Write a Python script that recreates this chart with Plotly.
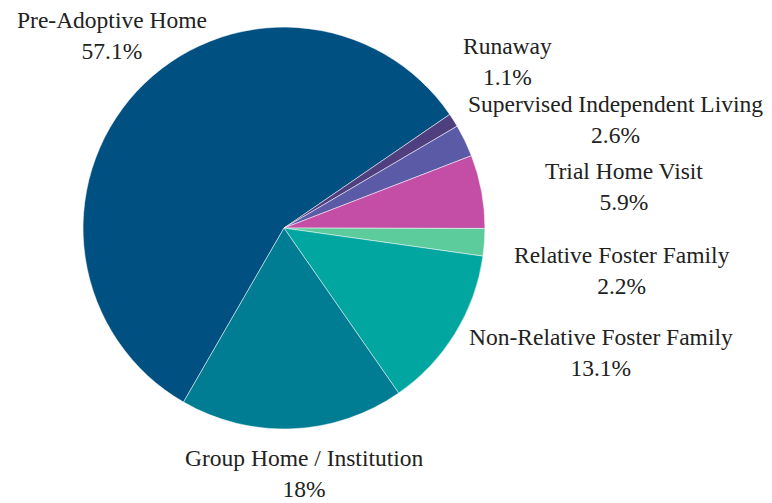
import plotly.graph_objects as go

labels = ["Pre-Adoptive Home", "Runaway", "Supervised Independent Living",
          "Trial Home Visit", "Relative Foster Family", "Non-Relative Foster Family",
          "Group Home / Institution"]
values = [57.1, 1.1, 2.6, 5.9, 2.2, 13.1, 18]
colors = ["#005082", "#4f3f7f", "#5b5aa6", "#c44ea6", "#5ccc9c", "#00a69f", "#007c93"]

# label placement (pixel centres of each outside label block) - layout only
label_px = [(104, 27), (499, 53), (607, 112), (616, 178), (614, 262), (593, 344), (296, 465)]

W, H = 772, 503

fig = go.Figure(go.Pie(
    labels=labels,
    values=values,
    sort=False,
    direction="clockwise",
    rotation=210,
    automargin=False,
    marker=dict(colors=colors, line=dict(color="white", width=0.5)),
    textposition="none",
    domain=dict(x=[0.097, 0.618], y=[0.163, 0.962]),
    hoverinfo="label+percent",
))

for lab, val, (px, py) in zip(labels, values, label_px):
    fig.add_annotation(
        x=px / W, y=1 - py / H, xref="paper", yref="paper",
        xanchor="center", yanchor="middle", align="center",
        text=f"{lab}<br>{val:g}%", showarrow=False,
        font=dict(family="Liberation Serif", size=23.5, color="#222222"),
    )

fig.update_layout(
    width=W, height=H,
    margin=dict(l=0, r=0, t=0, b=0),
    showlegend=False,
    paper_bgcolor="white",
    plot_bgcolor="white",
)
fig.write_html("out.html")
